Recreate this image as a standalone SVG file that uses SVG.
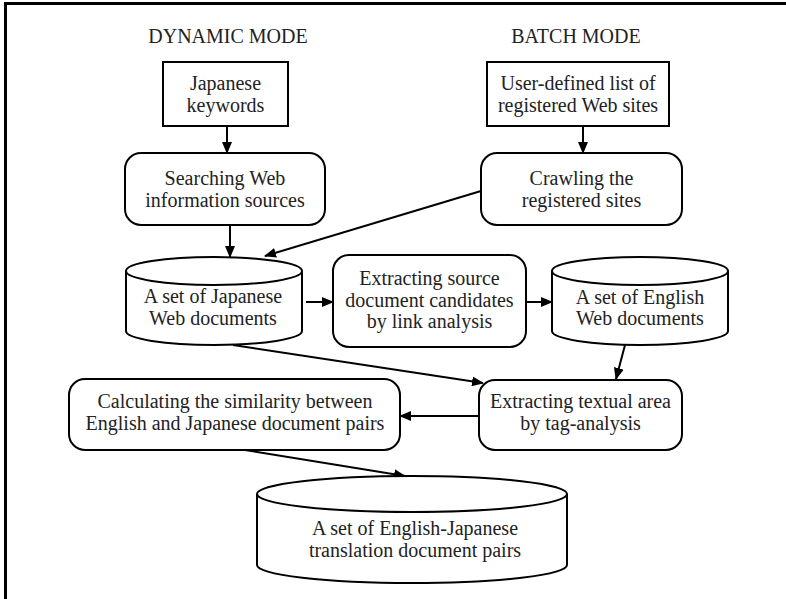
<svg xmlns="http://www.w3.org/2000/svg" width="786" height="599" viewBox="0 0 786 599">
<style>
.t{font-family:"Liberation Serif","Times New Roman",serif;font-size:20px;fill:#222;text-anchor:middle}
.s{fill:#fff;stroke:#000;stroke-width:2}
.c{fill:none;stroke:#000;stroke-width:2}
.e{stroke:#000;stroke-width:2;fill:none;marker-end:url(#ah)}
</style>
<defs>
<marker id="ah" markerUnits="userSpaceOnUse" markerWidth="12" markerHeight="10" refX="11" refY="5" orient="auto">
<path d="M0,0 L12,5 L0,10 Z" fill="#000"/>
</marker>
</defs>
<rect width="786" height="599" fill="#fff"/>
<path d="M5.5,2 V599 M4,3.5 H786" stroke="#000" stroke-width="3" fill="none"/>
<g id="labels">
<text class="t" x="228" y="43">DYNAMIC MODE</text>
<text class="t" x="576" y="43">BATCH MODE</text>
</g>
<g id="connectors">
<line class="e" x1="227" y1="126" x2="227" y2="153"/>
<line class="e" x1="583" y1="126" x2="583" y2="153"/>
<line class="e" x1="230" y1="225" x2="230" y2="257"/>
<line class="e" x1="481" y1="191" x2="265" y2="256"/>
<line class="e" x1="306" y1="302" x2="333" y2="302"/>
<line class="e" x1="526" y1="302" x2="552" y2="302"/>
<line class="e" x1="233" y1="345" x2="483" y2="383"/>
<line class="e" x1="625" y1="345" x2="616" y2="379"/>
<line class="e" x1="479" y1="416" x2="400" y2="416"/>
<line class="e" x1="245" y1="450" x2="405" y2="476"/>
</g>
<g id="japanese-keywords">
<rect class="s" x="163" y="62" width="125" height="64"/>
<text class="t" x="225.5" y="90">Japanese</text>
<text class="t" x="225.5" y="112">keywords</text>
</g>
<g id="user-list">
<rect class="s" x="487" y="62" width="182" height="64"/>
<text class="t" x="578" y="90">User-defined list of</text>
<text class="t" x="578" y="112">registered Web sites</text>
</g>
<g id="searching">
<rect class="s" x="125" y="153" width="200" height="72" rx="16"/>
<text class="t" x="225" y="185">Searching Web</text>
<text class="t" x="225" y="207">information sources</text>
</g>
<g id="crawling">
<rect class="s" x="481" y="153" width="201" height="72" rx="16"/>
<text class="t" x="581.5" y="185">Crawling the</text>
<text class="t" x="581.5" y="207">registered sites</text>
</g>
<g id="japanese-docs">
<path class="s" d="M126,271 V331 A88,14 0 0,0 302,331 V271"/>
<ellipse class="s" cx="214" cy="271" rx="88" ry="14"/>
<text class="t" x="213" y="303">A set of Japanese</text>
<text class="t" x="213" y="325">Web documents</text>
</g>
<g id="extracting-source">
<rect class="s" x="333" y="255" width="193" height="92" rx="16"/>
<text class="t" x="429.5" y="285">Extracting source</text>
<text class="t" x="429.5" y="307">document candidates</text>
<text class="t" x="429.5" y="328">by link analysis</text>
</g>
<g id="english-docs">
<path class="s" d="M552,271 V331 A88,14 0 0,0 728,331 V271"/>
<ellipse class="s" cx="640" cy="271" rx="88" ry="14"/>
<text class="t" x="640" y="304">A set of English</text>
<text class="t" x="640" y="325">Web documents</text>
</g>
<g id="extracting-textual">
<rect class="s" x="479" y="380" width="203" height="70" rx="16"/>
<text class="t" x="580.5" y="408">Extracting textual area</text>
<text class="t" x="580.5" y="430">by tag-analysis</text>
</g>
<g id="calculating">
<rect class="s" x="69" y="379" width="331" height="71" rx="16"/>
<text class="t" x="235" y="408">Calculating the similarity between</text>
<text class="t" x="235" y="430">English and Japanese document pairs</text>
</g>
<g id="pairs-docs">
<path class="s" d="M257,494 V565 A155,18 0 0,0 567,565 V494"/>
<ellipse class="s" cx="412" cy="494" rx="155" ry="18"/>
<text class="t" x="415" y="535">A set of English-Japanese</text>
<text class="t" x="415" y="557">translation document pairs</text>
</g>
</svg>
